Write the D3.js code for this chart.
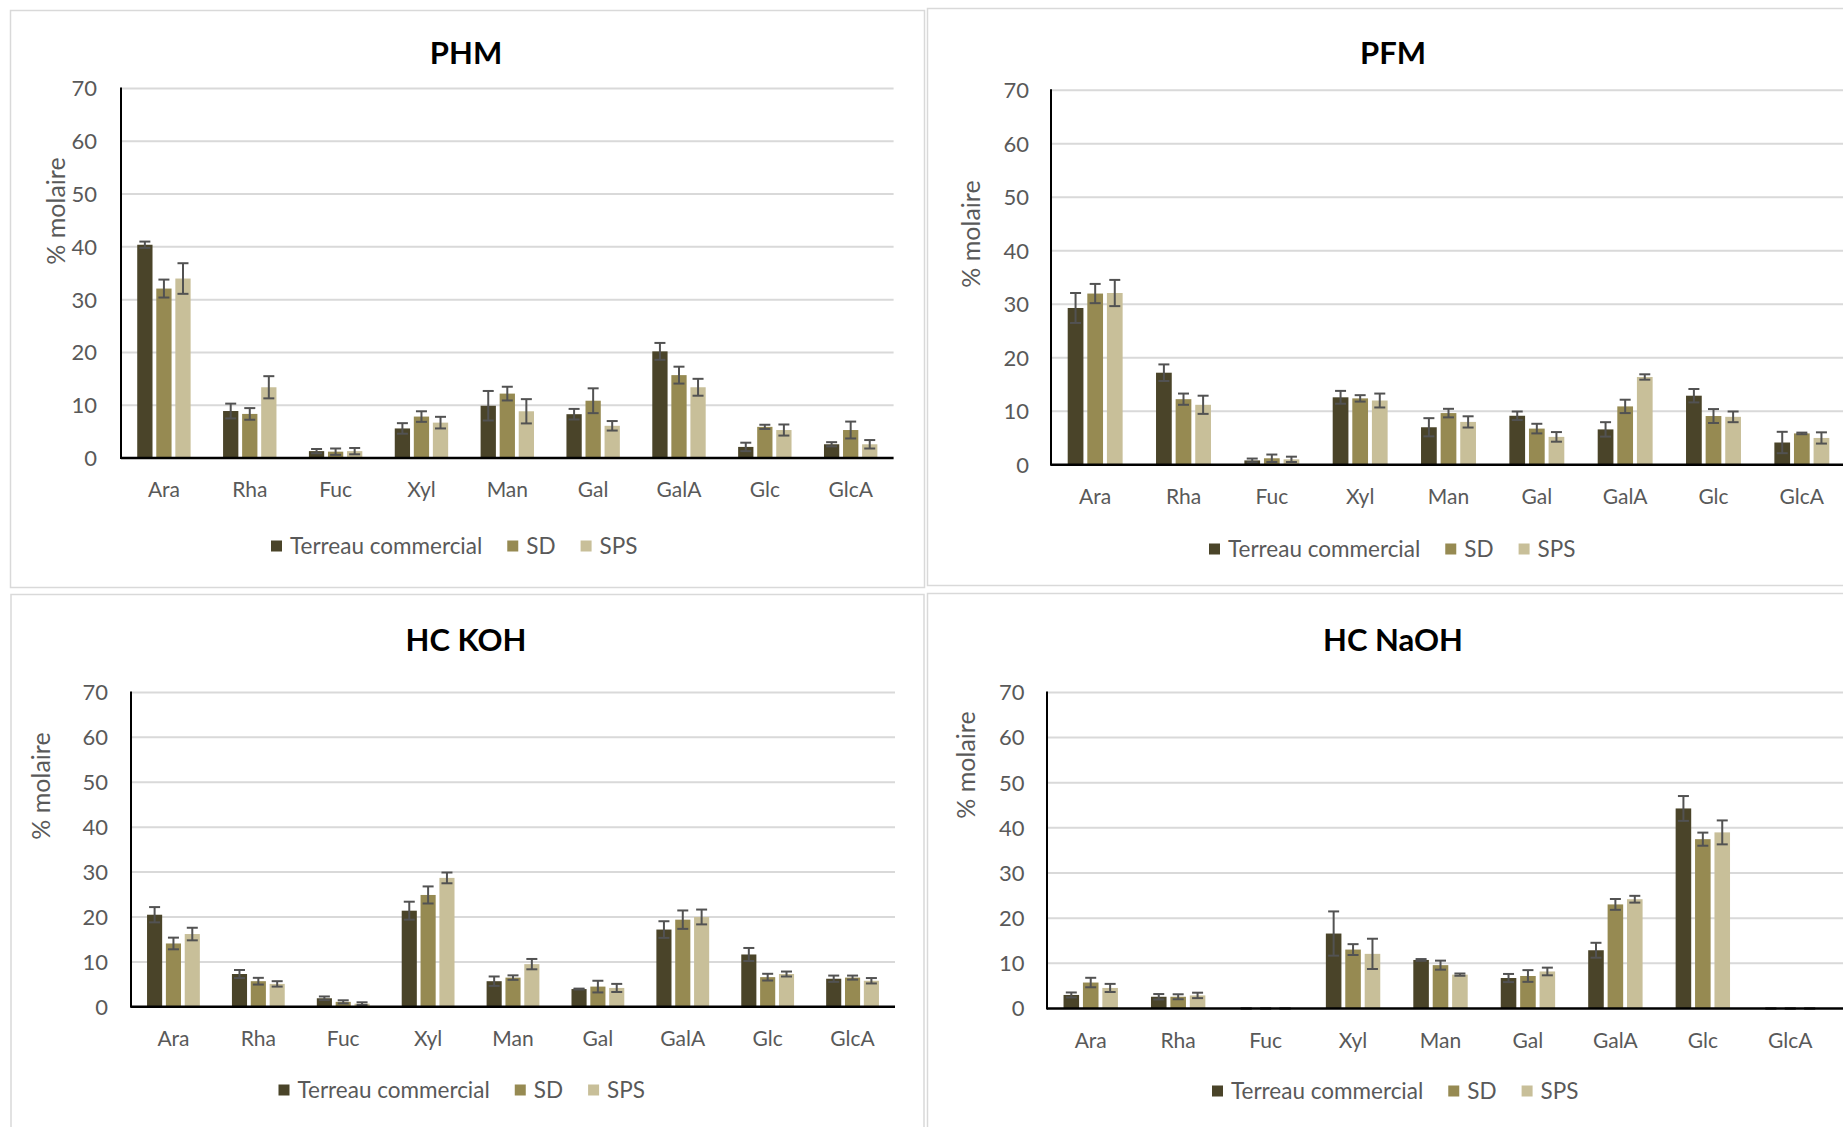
<!DOCTYPE html>
<html>
<head>
<meta charset="utf-8">
<script src="https://cdn.jsdelivr.net/npm/d3@7"></script>
<style>
  html, body { margin: 0; padding: 0; background: #ffffff; }
  svg { display: block; }
  text { font-family: Lato, "Open Sans", sans-serif; }
</style>
</head>
<body>
<svg id="chart" width="1843" height="1127"></svg>
<script>
// ---------- data ----------
const categories = ["Ara", "Rha", "Fuc", "Xyl", "Man", "Gal", "GalA", "Glc", "GlcA"];
const seriesNames = ["Terreau commercial", "SD", "SPS"];
const yTicks = [0, 10, 20, 30, 40, 50, 60, 70];
const panelTitles = ["PHM", "PFM", "HC KOH", "HC NaOH"];
const yAxisTitle = "% molaire";

// PHM
const phmTerreau    = [40.4, 8.9, 1.3, 5.6, 9.9, 8.3, 20.2, 2.1, 2.6];
const phmTerreauErr = [0.6, 1.4, 0.4, 1.0, 2.8, 1.0, 1.6, 0.8, 0.4];
const phmSD         = [32.1, 8.35, 1.2, 7.85, 12.2, 10.85, 15.7, 5.9, 5.3];
const phmSDErr      = [1.7, 1.1, 0.6, 1.0, 1.3, 2.35, 1.6, 0.4, 1.6];
const phmSPS        = [34.0, 13.4, 1.3, 6.7, 8.85, 6.1, 13.4, 5.3, 2.6];
const phmSPSErr     = [2.9, 2.1, 0.6, 1.1, 2.3, 0.9, 1.6, 1.05, 0.8];

// PFM
const pfmTerreau    = [29.3, 17.2, 0.8, 12.6, 7.0, 9.15, 6.6, 12.9, 4.15];
const pfmTerreauErr = [2.8, 1.55, 0.35, 1.2, 1.7, 0.8, 1.35, 1.25, 2.0];
const pfmSD         = [32.0, 12.25, 1.2, 12.4, 9.65, 6.75, 10.9, 9.1, 5.85];
const pfmSDErr      = [1.8, 1.05, 0.7, 0.6, 0.8, 0.9, 1.25, 1.3, 0.15];
const pfmSPS        = [32.1, 11.2, 1.0, 12.0, 8.0, 5.2, 16.4, 8.95, 5.0];
const pfmSPSErr     = [2.45, 1.7, 0.5, 1.3, 1.05, 0.9, 0.5, 1.0, 1.05];

// HC KOH
const kohTerreau    = [20.5, 7.3, 1.9, 21.4, 5.7, 3.95, 17.2, 11.65, 6.25];
const kohTerreauErr = [1.7, 0.9, 0.4, 2.0, 1.05, 0.1, 1.85, 1.45, 0.7];
const kohSD         = [14.1, 5.7, 1.1, 24.9, 6.5, 4.5, 19.4, 6.6, 6.5];
const kohSDErr      = [1.3, 0.75, 0.35, 1.9, 0.5, 1.3, 2.05, 0.75, 0.45];
const kohSPS        = [16.2, 5.1, 0.7, 28.7, 9.5, 4.2, 20.0, 7.3, 5.8];
const kohSPSErr     = [1.4, 0.6, 0.3, 1.2, 1.15, 0.9, 1.65, 0.55, 0.6];

// HC NaOH
const naohTerreau    = [3.0, 2.6, 0, 16.6, 10.75, 6.75, 12.9, 44.3, 0];
const naohTerreauErr = [0.55, 0.6, 0, 4.9, 0.2, 0.9, 1.65, 2.75, 0];
const naohSD         = [5.75, 2.6, 0, 13.05, 9.6, 7.2, 23.05, 37.5, 0];
const naohSDErr      = [1.05, 0.55, 0, 1.2, 1.0, 1.3, 1.2, 1.45, 0];
const naohSPS        = [4.55, 2.9, 0, 12.1, 7.5, 8.2, 24.2, 39.0, 0];
const naohSPSErr     = [0.9, 0.6, 0, 3.35, 0.25, 0.85, 0.75, 2.65, 0];

const seriesColors = ["#4a4429", "#968a52", "#c8bf99"];

// ---------- layout (positions only) ----------
const panels = [
  { title: panelTitles[0], values: [phmTerreau, phmSD, phmSPS], errs: [phmTerreauErr, phmSDErr, phmSPSErr],
    x0: 121, x1: 893.6, gridEnd: 893.6, yZero: 458, yTop: 88.5, titleX: 466, titleY: 64,
    tickRight: 97, ylabX: 65, ylabY: 211, legendX: 271, legendY: 546, box: [10, 10, 914, 577] },
  { title: panelTitles[1], values: [pfmTerreau, pfmSD, pfmSPS], errs: [pfmTerreauErr, pfmSDErr, pfmSPSErr],
    x0: 1051, x1: 1846, gridEnd: 1843, yZero: 464.7, yTop: 90.3, titleX: 1393, titleY: 64,
    tickRight: 1029, ylabX: 980, ylabY: 234, legendX: 1209, legendY: 549, box: [927, 8, 930, 577] },
  { title: panelTitles[2], values: [kohTerreau, kohSD, kohSPS], errs: [kohTerreauErr, kohSDErr, kohSPSErr],
    x0: 131, x1: 895, gridEnd: 895, yZero: 1006.8, yTop: 692.4, titleX: 466, titleY: 651,
    tickRight: 108, ylabX: 50, ylabY: 786, legendX: 278.5, legendY: 1090, box: [10.5, 594, 913, 600] },
  { title: panelTitles[3], values: [naohTerreau, naohSD, naohSPS], errs: [naohTerreauErr, naohSDErr, naohSPSErr],
    x0: 1047, x1: 1834, gridEnd: 1843, yZero: 1008.5, yTop: 692.4, titleX: 1393, titleY: 651,
    tickRight: 1024.5, ylabX: 975, ylabY: 765, legendX: 1212, legendY: 1091, box: [927, 593, 930, 600] }
];

const svg = d3.select("#chart");

panels.forEach(p => {
  const g = svg.append("g");

  // panel border
  g.append("rect")
    .attr("x", p.box[0] + 0.5).attr("y", p.box[1] + 0.5)
    .attr("width", p.box[2]).attr("height", p.box[3])
    .attr("fill", "none").attr("stroke", "#d9d9d9").attr("stroke-width", 1.5);

  const x = d3.scaleBand().domain(categories).range([p.x0, p.x1]).paddingInner(0).paddingOuter(0);
  const B = x.bandwidth();
  const groupW = 0.622 * B;
  const xs = d3.scaleBand().domain(d3.range(seriesNames.length))
    .range([-groupW / 2, groupW / 2]).paddingInner(0.198).paddingOuter(0);
  const y = d3.scaleLinear().domain([0, 70]).range([p.yZero, p.yTop]);

  // gridlines
  g.append("g").selectAll("line").data(yTicks.filter(t => t > 0)).join("line")
    .attr("x1", p.x0).attr("x2", p.gridEnd)
    .attr("y1", d => y(d)).attr("y2", d => y(d))
    .attr("stroke", "#d9d9d9").attr("stroke-width", 2);

  // y tick labels
  g.append("g").selectAll("text").data(yTicks).join("text")
    .attr("x", p.tickRight).attr("y", d => y(d))
    .attr("dy", "0.36em")
    .attr("text-anchor", "end")
    .attr("font-size", 22).attr("fill", "#595959")
    .text(d => d);

  // bars
  seriesNames.forEach((s, si) => {
    const sg = g.append("g");
    sg.selectAll("rect").data(categories).join("rect")
      .attr("x", c => x(c) + B / 2 + xs(si))
      .attr("width", xs.bandwidth())
      .attr("y", (c, i) => y(p.values[si][i]))
      .attr("height", (c, i) => y(0) - y(p.values[si][i]))
      .attr("fill", seriesColors[si]);
  });

  // error bars
  seriesNames.forEach((s, si) => {
    const eg = g.append("g").attr("stroke", "#525252").attr("stroke-width", 2);
    categories.forEach((c, i) => {
      const cx = x(c) + B / 2 + xs(si) + xs.bandwidth() / 2;
      const v = p.values[si][i], e = p.errs[si][i];
      const yHi = y(v + e), yLo = y(Math.max(0, v - e));
      eg.append("line").attr("x1", cx).attr("x2", cx).attr("y1", yHi).attr("y2", yLo);
      eg.append("line").attr("x1", cx - 5.5).attr("x2", cx + 5.5).attr("y1", yHi).attr("y2", yHi);
      eg.append("line").attr("x1", cx - 5.5).attr("x2", cx + 5.5).attr("y1", yLo).attr("y2", yLo);
    });
  });

  // axes lines
  g.append("line").attr("x1", p.x0).attr("x2", p.gridEnd).attr("y1", y(0)).attr("y2", y(0))
    .attr("stroke", "#000").attr("stroke-width", 2.5);
  g.append("line").attr("x1", p.x0).attr("x2", p.x0).attr("y1", y(70) - 1).attr("y2", y(0) + 1)
    .attr("stroke", "#000").attr("stroke-width", 2);

  // category labels
  g.append("g").selectAll("text").data(categories).join("text")
    .attr("x", c => x(c) + B / 2).attr("y", p.yZero + 39)
    .attr("text-anchor", "middle")
    .attr("font-size", 21).attr("fill", "#595959")
    .text(c => c);

  // title
  g.append("text").attr("x", p.titleX).attr("y", p.titleY)
    .attr("text-anchor", "middle").attr("font-size", 31).attr("font-weight", "bold")
    .attr("fill", "#000").text(p.title);

  // y axis title
  g.append("text")
    .attr("transform", `translate(${p.ylabX},${p.ylabY}) rotate(-90)`)
    .attr("text-anchor", "middle").attr("font-size", 25).attr("fill", "#595959")
    .text(yAxisTitle);

  // legend
  let lx = p.legendX;
  seriesNames.forEach((s, si) => {
    g.append("rect").attr("x", lx).attr("y", p.legendY - 5.5).attr("width", 11).attr("height", 11)
      .attr("fill", seriesColors[si]);
    const t = g.append("text").attr("x", lx + 19).attr("y", p.legendY + 8)
      .attr("font-size", 22.5).attr("fill", "#595959").text(s);
    lx += 19 + t.node().getComputedTextLength() + 25;
  });
});
</script>
</body>
</html>
